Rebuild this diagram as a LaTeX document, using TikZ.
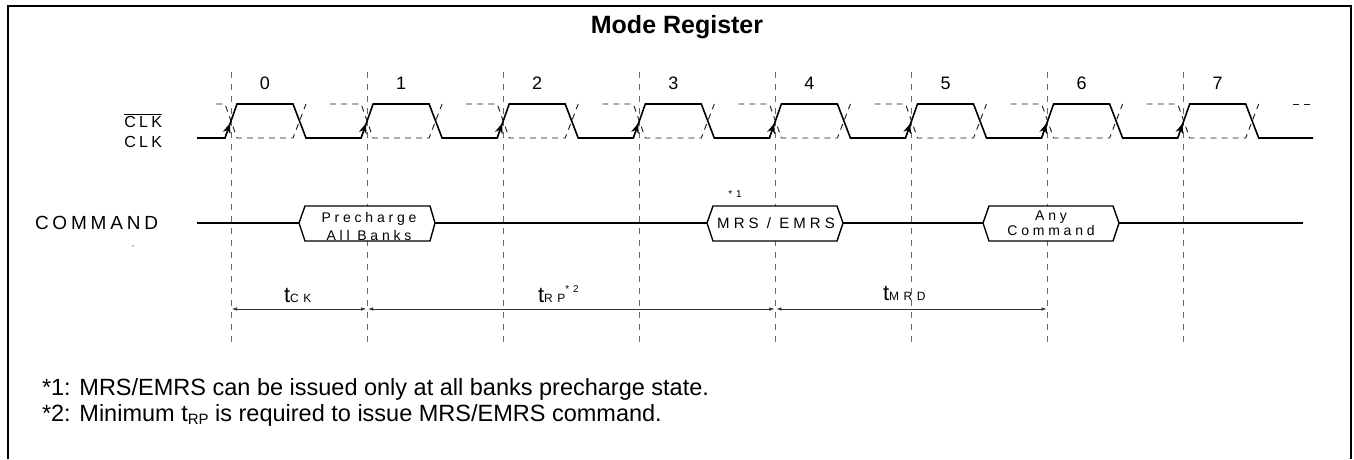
\documentclass[tikz,border=0pt]{standalone}
\usepackage{fontspec}
\setmainfont{Liberation Sans}
\newfontfamily\lsfont[LetterSpace=20]{Liberation Sans}
\newfontfamily\lsbox[LetterSpace=27]{Liberation Sans}
\newfontfamily\lssub[LetterSpace=38]{Liberation Sans}
\usetikzlibrary{arrows.meta}
\begin{document}
\begin{tikzpicture}[x=1pt,y=-1pt,
  clk/.style={line width=1.6pt, line join=miter},
  clkdash/.style={line width=0.9pt, black!90, dash pattern=on 6pt off 5pt},
  vdash/.style={line width=0.9pt, black!60, dash pattern=on 6pt off 6pt},
  sig/.style={line width=1.4pt},
  hexbox/.style={line width=1.4pt, fill=white},
  risearrow/.style={line width=1pt, -{Stealth[length=10pt,width=8pt]}},
  timarrow/.style={line width=0.6pt, black!80, {Latex[length=5pt,width=3.5pt]}-{Latex[length=5pt,width=3.5pt]}, shorten <=1pt, shorten >=1pt},
  txt/.style={inner sep=0pt, outer sep=0pt}]
\useasboundingbox (0,0) rectangle (1354,459);
% frame
\draw[line width=2pt] (8,459) -- (8,6) -- (1351,6) -- (1351,459);
\node[txt] (title) at (677,27) {\fontsize{25}{28}\selectfont\bfseries Mode Register};
% vertical dashed lines and cycle numbers
\foreach \k in {0,...,7}{
  \coordinate (vt\k) at ({231+136.1*\k},72);
  \coordinate (vb\k) at ({231+136.1*\k},345);
  \draw[vdash] (vt\k) -- (vb\k);
  \node[txt] (n\k) at ({231+136.1*\k+34},83) {\fontsize{18}{18}\selectfont \k};
}
% CLK bar (dashed)
\draw[clkdash] (216,104) -- (225,104) -- (237,138) -- (293,138) -- (306,104);
\foreach \k in {1,...,7}{
  \draw[clkdash] ({231+136.1*\k-37},104) -- ({231+136.1*\k-6},104) -- ({231+136.1*\k+6},138) -- ({231+136.1*\k+62},138) -- ({231+136.1*\k+75},104);
}
\draw[clkdash] (1293,104) -- (1313,104);
% CLK
\draw[clk] (197,138) foreach \k in {0,...,7}{ -- ({231+136.1*\k-6},138) -- ({231+136.1*\k+6},104) -- ({231+136.1*\k+62},104) -- ({231+136.1*\k+75},138) } -- (1313,138);
\foreach \k in {0,...,7}{
  \draw[risearrow] ({231+136.1*\k-6},138) -- ({231+136.1*\k-1.2},123.5);
}
\node[txt, anchor=base east] (clkb) at (162,127) {\fontsize{16}{16}\selectfont\lsfont $\overline{\mbox{CLK}}$};
\node[txt, anchor=base east] (clk) at (162,147) {\fontsize{16}{16}\selectfont\lsfont CLK};
% COMMAND
\node[txt, anchor=west] (cmd) at (35,223) {\fontsize{19}{19}\selectfont\lsfont COMMAND};
\fill (133,246) circle (0.6);
\coordinate (cs) at (197,223);
\coordinate (ce) at (1303,223);
\draw[sig] (cs) -- (ce);
\draw[hexbox] (299,223) -- (305,206) -- (430,206) -- (435,223) -- (430,241) -- (305,241) -- cycle;
\node[txt] (pre1) at (369,219) {\fontsize{14}{14}\selectfont\lsbox Precharge};
\node[txt] (pre2) at (369,235) {\fontsize{14}{14}\selectfont\lsbox All Banks};
\draw[hexbox] (707,223) -- (713,206) -- (837,206) -- (843,223) -- (837,241) -- (713,241) -- cycle;
\node[txt] (mrs) at (776,223) {\fontsize{15}{15}\selectfont\lsbox MRS / EMRS};
\node[txt] (star1) at (735,194.5) {\fontsize{10}{10}\selectfont\lssub *1};
\draw[hexbox] (983,223) -- (989,206) -- (1113,206) -- (1119,223) -- (1113,241) -- (989,241) -- cycle;
\node[txt] (any1) at (1051,217) {\fontsize{14}{14}\selectfont\lsbox Any};
\node[txt] (any2) at (1051,230) {\fontsize{14}{14}\selectfont\lsbox Command};
% timing arrows
\coordinate (ta) at (231,309);
\coordinate (tb) at (367.1,309);
\coordinate (tc) at (775.4,309);
\coordinate (td) at (1047.5,309);
\draw[timarrow] (ta) -- (tb);
\draw[timarrow] (tb) -- (tc);
\draw[timarrow] (tc) -- (td);
\node[txt, anchor=base west] (tck) at (284,302) {\fontsize{22}{22}\selectfont t\fontsize{12}{12}\selectfont\lssub CK};
\node[txt, anchor=base west] (trp) at (538,302) {\fontsize{22}{22}\selectfont t\fontsize{12}{12}\selectfont\lssub RP\raisebox{10pt}{\fontsize{10}{10}\selectfont\lssub *2}};
\node[txt, anchor=base west] (tmrd) at (883,300) {\fontsize{22}{22}\selectfont t\fontsize{12}{12}\selectfont\lssub MRD};
% footnotes
\node[txt, anchor=base west] (fn1) at (42,395) {\fontsize{23.5}{23.5}\selectfont *1: MRS/EMRS can be issued only at all banks precharge state.};
\node[txt, anchor=base west] (fn2) at (42,421) {\fontsize{23.5}{23.5}\selectfont *2: Minimum t\raisebox{-3pt}{\fontsize{15}{15}\selectfont RP} is required to issue MRS/EMRS command.};
\end{tikzpicture}
\end{document}
